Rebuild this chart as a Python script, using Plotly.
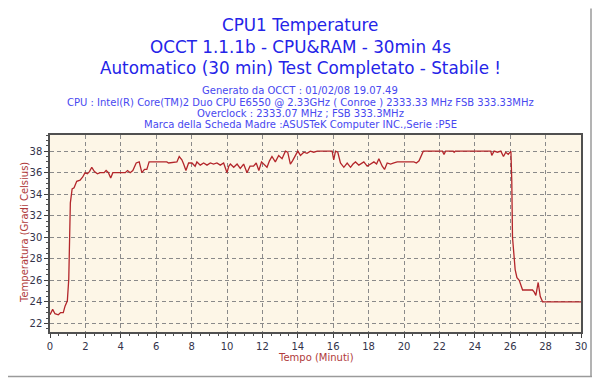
import plotly.graph_objects as go

# ---- data ----
time_min = [0.0, 0.15, 0.28, 0.47, 0.6, 0.75, 0.85, 0.98, 1.06, 1.09, 1.15, 1.25, 1.36, 1.51, 1.7, 1.85, 1.98,
            2.11, 2.23, 2.36, 2.51, 2.68, 2.83, 3.06, 3.17, 3.3, 3.43, 3.55, 4.25, 4.38, 4.53, 4.68, 4.87,
            5.04, 5.19, 5.34, 5.47, 5.6, 6.6, 6.7, 7.17, 7.3, 7.45, 7.55, 7.68, 7.83, 8.02, 8.2, 8.3, 8.49,
            8.68, 8.87, 9.06, 9.24, 9.43, 9.62, 9.81, 10.0, 10.1, 10.19, 10.38, 10.57, 10.75, 10.94, 11.13,
            11.3, 11.5, 11.65, 11.8, 11.95, 12.07, 12.26, 12.4, 12.54, 12.73, 12.92, 13.11, 13.3, 13.43, 13.58,
            13.7, 13.81, 14.0, 14.15, 14.34, 14.52, 14.71, 14.9, 15.1, 15.94, 16.03, 16.13, 16.26, 16.41,
            16.6, 16.79, 16.98, 17.12, 17.26, 17.45, 17.6, 17.73, 17.92, 18.11, 18.3, 18.45, 18.58, 18.77,
            18.9, 19.05, 19.24, 19.43, 19.62, 20.56, 20.7, 20.85, 21.09, 22.17, 22.26, 22.35, 22.78, 22.83,
            22.9, 24.9, 24.96, 25.09, 25.28, 25.47, 25.62, 25.75, 25.89, 26.04, 26.09, 26.13, 26.19, 26.28,
            26.38, 26.51, 26.7, 27.26, 27.36, 27.45, 27.58, 27.7, 27.83, 30.0]
temperature = [22.8, 23.3, 22.9, 22.8, 23.0, 23.0, 23.6, 24.1, 26.1, 29.2, 33.2, 34.5, 34.6, 35.2, 35.3, 35.6, 36.0,
               35.9, 36.1, 36.5, 36.1, 35.9, 36.0, 36.0, 36.2, 36.0, 35.5, 36.0, 36.0, 36.2, 36.0, 36.2, 36.9,
               37.0, 36.0, 36.3, 36.3, 37.0, 37.0, 36.9, 37.0, 37.5, 37.2, 36.8, 36.2, 36.9, 36.9, 36.6, 37.0, 36.7,
               36.9, 36.7, 36.9, 36.8, 36.9, 36.7, 36.9, 36.0, 36.6, 36.8, 36.5, 36.8, 36.4, 36.8, 36.0,
               36.6, 36.6, 36.9, 36.2, 37.0, 36.8, 36.5, 37.1, 37.5, 37.0, 37.6, 37.3, 38.0, 37.9, 36.8,
               37.1, 37.4, 38.0, 37.6, 37.9, 37.8, 38.0, 37.9, 38.0, 38.0, 37.2, 38.0, 37.9, 36.9,
               36.5, 36.9, 36.5, 36.8, 37.0, 36.7, 36.9, 37.0, 36.6, 36.8, 37.0, 36.8, 37.3, 36.6,
               36.3, 36.9, 36.8, 36.9, 37.0, 37.0, 36.9, 37.1, 38.0, 38.0, 37.7, 38.0, 38.0, 37.9,
               38.0, 38.0, 37.6, 38.0, 37.9, 38.0, 37.5, 37.9, 37.7, 38.0, 35.2, 30.0, 28.6, 27.0,
               26.25, 26.0, 25.1, 25.1, 24.9, 24.6, 25.8, 24.5, 24.0, 24.0]

y_ticks = [22, 24, 26, 28, 30, 32, 34, 36, 38]
x_ticks = list(range(0, 31, 2))

title_lines = ["CPU1 Temperature",
               "OCCT 1.1.1b - CPU&RAM - 30min 4s",
               "Automatico (30 min) Test Completato - Stabile !"]
info_lines = ["Generato da OCCT : 01/02/08 19.07.49",
              "CPU : Intel(R) Core(TM)2 Duo CPU E6550 @ 2.33GHz ( Conroe ) 2333.33 MHz FSB 333.33MHz",
              "Overclock : 2333.07 MHz ; FSB 333.3MHz",
              "Marca della Scheda Madre :ASUSTeK Computer INC.,Serie :P5E"]

# ---- geometry (page coords; the page body adds an 8px offset) ----
OFF = 8
W, H = 600 - OFF, 378 - OFF
L, R, T, B = 50 - OFF, 581 - OFF, 135 - OFF, 332 - OFF
pw, ph = R - L, B - T

def px(x):  # page x -> paper
    return (x - OFF - L) / pw

def py(y):  # page y -> paper
    return (B - (y - OFF)) / ph

fig = go.Figure()
fig.add_trace(go.Scatter(x=time_min, y=temperature, mode="lines",
                         line=dict(color="#b3262b", width=1.3), hoverinfo="skip"))

ann = []
title_y = [25, 47, 68]
for s, yy in zip(title_lines, title_y):
    ann.append(dict(text=s, x=px(300), y=py(yy), xref="paper", yref="paper", showarrow=False,
                    xanchor="center", yanchor="middle",
                    font=dict(family="DejaVu Sans", size=16.8, color="#2424e8")))
info_y = [90.5, 102, 113.5, 124.5]
for s, yy in zip(info_lines, info_y):
    ann.append(dict(text=s, x=px(300), y=py(yy), xref="paper", yref="paper", showarrow=False,
                    xanchor="center", yanchor="middle",
                    font=dict(family="DejaVu Sans", size=10, color="#4848f0")))

ann.append(dict(text="Temperatura (Gradi Celsius)", x=px(24), y=py(233), xref="paper", yref="paper",
                showarrow=False, textangle=-90, xanchor="center", yanchor="middle",
                font=dict(family="DejaVu Sans", size=10, color="#b03a3a")))
ann.append(dict(text="Tempo (Minuti)", x=px(316), y=py(357), xref="paper", yref="paper",
                showarrow=False, xanchor="center", yanchor="middle",
                font=dict(family="DejaVu Sans", size=10, color="#b03a3a")))

shapes = [
    dict(type="line", xref="paper", yref="paper", x0=px(591), x1=px(591), y0=py(8.5), y1=py(376.5),
         line=dict(color="#9a9a9a", width=1.5)),
    dict(type="line", xref="paper", yref="paper", x0=px(0), x1=px(598), y0=py(376.5), y1=py(376.5),
         line=dict(color="#9a9a9a", width=1.5)),
]

axis_common = dict(showline=True, mirror=True, linecolor="#505050", linewidth=1.5,
                   ticks="outside", ticklen=4, tickcolor="#404040",
                   showgrid=True, gridcolor="#8a8a8a", gridwidth=1, griddash="4px,3px",
                   zeroline=False, automargin=False,
                   tickfont=dict(family="DejaVu Sans", size=10, color="#33334a"))

fig.update_layout(
    width=W, height=H,
    margin=dict(l=L, r=W - R, t=T, b=H - B, pad=0),
    paper_bgcolor="white", plot_bgcolor="#fdf6e7",
    showlegend=False,
    annotations=ann, shapes=shapes,
    xaxis=dict(range=[0, 30], tickvals=x_ticks,
               minor=dict(dtick=0.5, ticks="outside", ticklen=2, tickcolor="#505050", showgrid=False),
               **axis_common),
    yaxis=dict(range=[21.2, 39.5], tickvals=y_ticks,
               minor=dict(dtick=0.5, ticks="outside", ticklen=2, tickcolor="#505050", showgrid=False),
               **axis_common),
)

fig.write_html("out.html")
